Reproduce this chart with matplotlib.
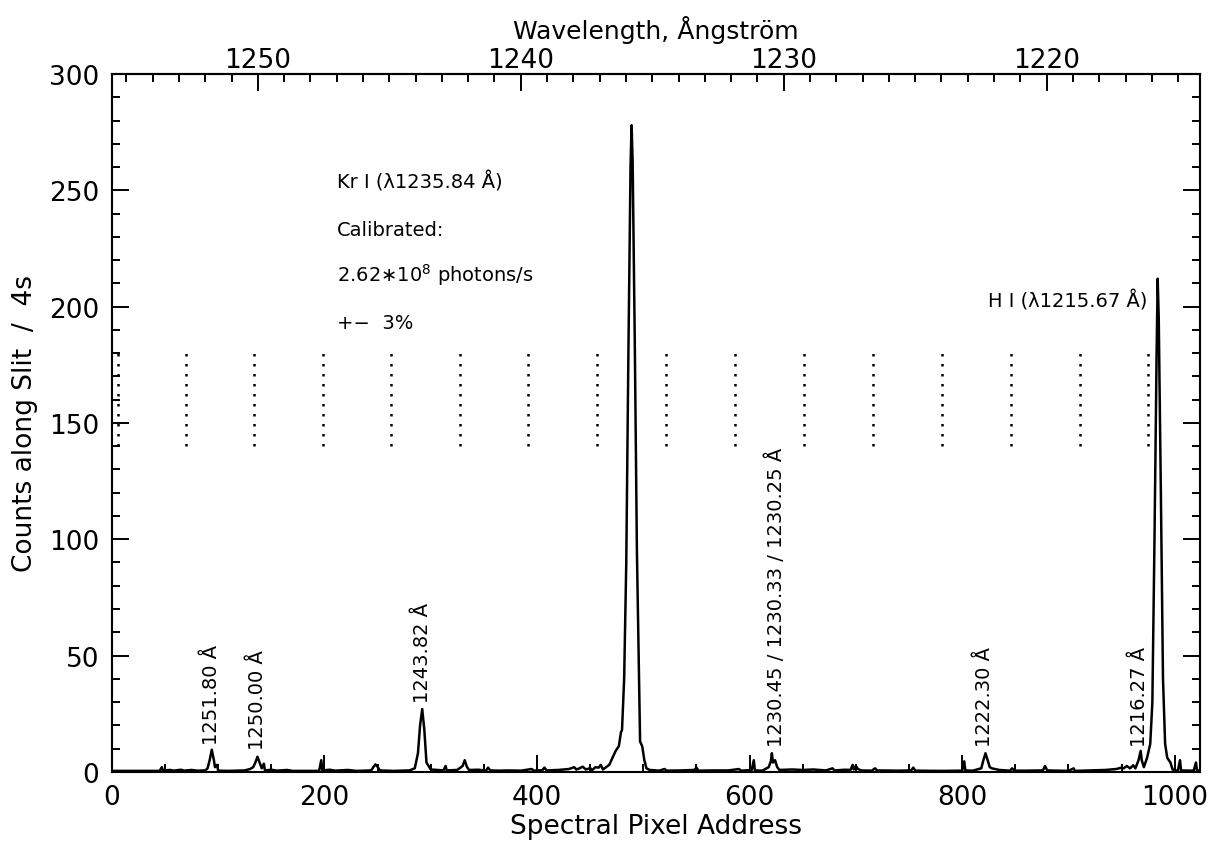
"""
    Krypton lamp calibration spectrum: counts along the slit
    versus spectral pixel, with the wavelength scale on top.
"""

import numpy as np
import matplotlib
matplotlib.use("Agg")
import matplotlib.pyplot as plt
from matplotlib.ticker import MultipleLocator, FixedLocator

"""
==================================================================================
"""

# Trace of the spectrum (pixel, counts).
pixels = [
    0, 45, 47, 48, 55, 58, 65, 68, 75, 80, 88, 90, 92, 94, 96, 97, 99, 100,
    110, 125, 130, 133, 135, 137, 139, 141, 143, 144, 150, 155, 165, 170,
    195, 197, 198, 205, 210, 222, 230, 244, 246, 248, 250, 252, 265, 280,
    285, 288, 290, 292, 294, 296, 298, 300, 312, 314, 315, 325, 330, 332,
    334, 336, 345, 352, 354, 356, 365, 372, 385, 395, 397, 405, 407, 409,
    420, 430, 435, 437, 440, 443, 446, 450, 452, 455, 458, 460, 462, 465,
    468, 471, 474, 477, 479, 480, 482, 484, 486, 488, 489, 490, 492, 494,
    496, 497, 499, 501, 503, 506, 515, 520, 522, 535, 548, 550, 552, 565,
    580, 590, 592, 602, 604, 605, 612, 618, 620, 621, 622, 624, 626, 628,
    640, 650, 660, 672, 678, 680, 690, 695, 697, 698, 700, 702, 705, 715,
    718, 720, 740, 752, 754, 756, 780, 800, 802, 803, 810, 818, 820, 822,
    824, 826, 828, 835, 845, 847, 849, 860, 876, 878, 880, 900, 905, 906,
    920, 935, 945, 950, 952, 955, 958, 961, 963, 966, 968, 969, 971, 974,
    977, 979, 981, 983, 984, 985, 987, 989, 991, 993, 996, 998, 1001, 1003,
    1005, 1006, 1015, 1018, 1020, 1021, 1024,
]
counts = [
    0.4, 0.4, 2.0, 0.6, 0.8, 0.5, 0.9, 0.5, 0.8, 0.5, 0.6, 1.5, 5, 9.5, 5, 2, 3, 0.5,
    0.4, 0.6, 1.2, 2, 4, 6.5, 4, 1.5, 3.5, 0.6, 0.9, 0.5, 0.8, 0.4,
    0.4, 5, 0.6, 0.9, 0.5, 0.8, 0.4, 0.6, 2, 3.2, 2.2, 0.6, 0.4, 0.6,
    1.5, 8, 20, 27, 18, 4, 2.5, 1, 0.6, 2.5, 0.6, 0.8, 2.5, 5,
    2.2, 0.8, 0.9, 0.5, 1.8, 0.6, 0.5, 0.6, 0.5, 1.2, 0.5, 0.7, 1.8, 0.6,
    0.8, 1.2, 2, 1, 1.5, 2.2, 1, 1.6, 0.8, 2, 1.8, 3, 1, 2,
    3, 6, 9, 11, 17, 18, 40, 90, 180, 260, 278, 262, 185, 95,
    40, 13, 11, 5, 1.5, 0.8, 0.5, 1.2, 0.5, 0.6, 0.8, 1.8, 0.5, 0.6,
    0.6, 1.2, 0.5, 0.8, 5, 0.6, 0.5, 2, 4.5, 8, 4, 5, 2, 0.8,
    1, 0.8, 1, 0.6, 1.5, 0.6, 0.9, 0.8, 3, 1, 2.5, 1.2, 0.6, 0.5,
    1.5, 0.6, 0.5, 0.6, 1.8, 0.5, 0.4, 0.5, 4.5, 0.6, 0.5, 1.5, 5, 8,
    5, 2, 1.5, 0.8, 0.5, 1.5, 0.5, 0.5, 0.6, 2.5, 0.6, 0.4, 1.5, 0.4,
    0.6, 0.8, 1.2, 1.8, 1.5, 2.5, 1.5, 2.8, 1.5, 5, 9, 5, 2, 6,
    12, 30, 100, 180, 212, 195, 120, 40, 12, 6, 4, 1, 0.6, 0.5,
    5, 0.6, 0.5, 0.6, 4, 0.6, 0.5,
]

# Segment borders drawn as dotted lines (pixel positions).
segmentPixels = [6, 70, 134, 199, 263, 328, 392, 456, 521, 586, 651, 716, 781, 846, 911, 975]
segmentLow = 140
segmentHigh = 180

# Line identifications: label, pixel, counts at the foot of the text.
lineLabels = ["1251.80 Å", "1250.00 Å", "1243.82 Å",
              "1230.45 / 1230.33 / 1230.25 Å", "1222.30 Å", "1216.27 Å"]
linePixels = [94, 137, 292, 625, 821, 967]
lineFoot = [12, 10, 30, 11, 11, 11]

# Wavelength ticks on the top axis.
wavelengthTicks = [1250, 1240, 1230, 1220]

# Wavelength calibration: lambda = lambda0 - dispersion * pixel.
lambda0 = 1255.55
dispersion = 0.04042

"""
==================================================================================
"""

def pixelToWavelength(p):
    return lambda0 - dispersion * np.asarray(p, dtype=float)

def wavelengthToPixel(w):
    return (lambda0 - np.asarray(w, dtype=float)) / dispersion

def plotSpectrum():
    plt.rcParams["font.family"] = ["DejaVu Sans"]
    fig = plt.figure(figsize=(12.16, 8.53), dpi=100)
    ax = fig.add_axes([0.092, 0.094, 0.895, 0.818])

    ax.plot(pixels, counts, color="black", linewidth=1.8)

    for p in segmentPixels:
        ax.plot([p, p], [segmentLow, segmentHigh], color="black",
                linewidth=1.8, linestyle=(0, (1, 3)))

    for label, p, foot in zip(lineLabels, linePixels, lineFoot):
        ax.text(p, foot, label, rotation=90, ha="center", va="bottom", fontsize=14)

    # Kr I calibration note.
    noteSize = 14
    ax.text(212, 254, "Kr I (λ1235.84 Å)", fontsize=noteSize, va="center")
    ax.text(212, 233, "Calibrated:", fontsize=noteSize, va="center")
    ax.text(212, 214, "2.62∗10$^8$ photons/s", fontsize=noteSize, va="center")
    ax.text(212, 193, "+−  3%", fontsize=noteSize, va="center")
    ax.text(974, 203, "H I (λ1215.67 Å)", fontsize=noteSize, va="center", ha="right")

    ax.set_xlim(0, 1024)
    ax.set_ylim(0, 300)

    ax.xaxis.set_major_locator(MultipleLocator(200))
    ax.xaxis.set_minor_locator(MultipleLocator(50))
    ax.yaxis.set_major_locator(MultipleLocator(50))
    ax.yaxis.set_minor_locator(MultipleLocator(10))
    ax.tick_params(which="both", direction="in", right=True, width=1.4, labelsize=19)
    ax.tick_params(which="major", length=12, pad=9)
    ax.tick_params(which="minor", length=6)
    ax.tick_params(axis="x", top=False)

    for spine in ax.spines.values():
        spine.set_linewidth(1.5)

    ax.set_xlabel("Spectral Pixel Address", fontsize=19, labelpad=2)
    ax.set_ylabel("Counts along Slit  /  4s", fontsize=19, labelpad=8)

    top = ax.secondary_xaxis("top", functions=(pixelToWavelength, wavelengthToPixel))
    top.xaxis.set_major_locator(FixedLocator(wavelengthTicks))
    top.xaxis.set_minor_locator(MultipleLocator(1))
    top.tick_params(which="both", direction="in", width=1.4, labelsize=19)
    top.tick_params(which="major", length=12, pad=1)
    top.tick_params(which="minor", length=6)
    top.set_xlabel("Wavelength, Ångström", fontsize=18, labelpad=6)
    top.spines["top"].set_linewidth(1.5)

    fig.savefig("out.png", dpi=100)

"""
==================================================================================
"""

plots = {
    "spectrum": lambda: plotSpectrum(),
}

activePlot = "spectrum"

if activePlot in plots:
    plots[activePlot]()
